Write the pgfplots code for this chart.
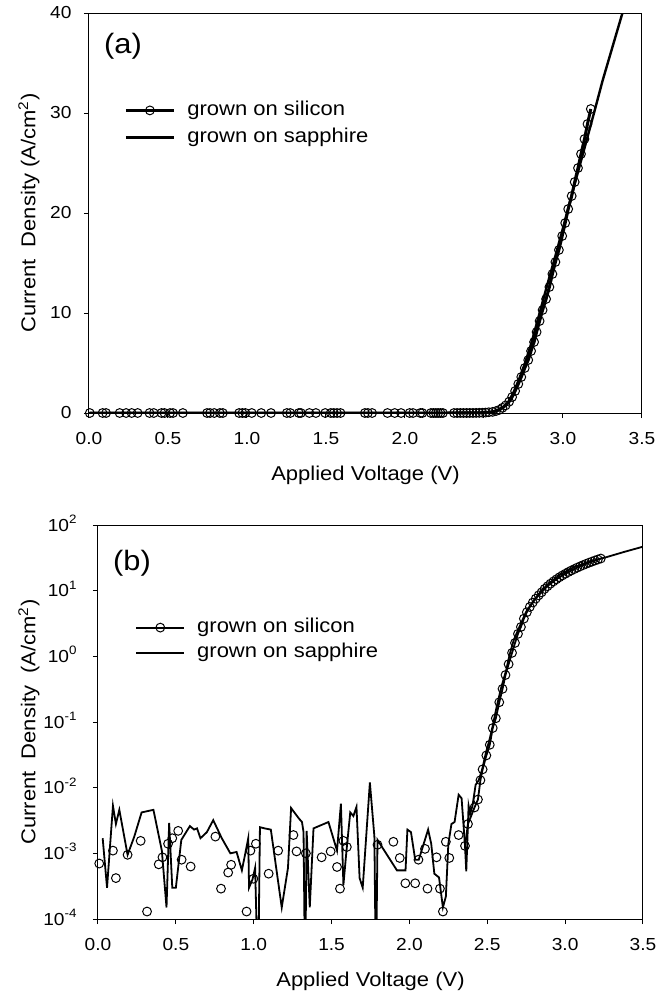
\documentclass[border=0pt]{standalone}
\usepackage{fontspec}
\setmainfont{Liberation Sans}[FakeStretch=1.1]
\usepackage{pgfplots}
\usepackage{pgfplotstable}
\pgfplotsset{compat=1.18}
\newcommand\tickfont{\fontsize{8.7}{10}\selectfont}
\newcommand\labfont{\fontsize{10}{12}\selectfont}

% (a) linear scale
\pgfplotstableread{
V J
0.005 0
0.086 0
0.108 0
0.194 0
0.235 0
0.270 0
0.308 0
0.383 0
0.410 0
0.459 0
0.478 0
0.513 0
0.532 0
0.594 0
0.747 0
0.766 0
0.793 0
0.828 0
0.847 0
0.950 0
0.971 0
0.990 0
1.030 0
1.090 0
1.152 0
1.252 0
1.274 0
1.328 0
1.341 0
1.395 0
1.436 0
1.495 0
1.530 0
1.549 0
1.570 0
1.592 0
1.746 0
1.765 0
1.792 0
1.889 0
1.935 0
1.975 0
2.029 0
2.051 0
2.097 0
2.110 0
2.164 0
2.180 0
2.195 0
2.210 0
2.225 0
2.240 0
2.310 0.002
2.330 0.003
2.350 0.003
2.370 0.003
2.390 0.004
2.410 0.005
2.430 0.007
2.450 0.012
2.470 0.019
2.490 0.030
2.510 0.043
2.530 0.075
2.555 0.114
2.577 0.20
2.598 0.32
2.617 0.52
2.637 0.76
2.659 1.13
2.678 1.6
2.697 2.2
2.717 2.9
2.736 3.6
2.758 4.5
2.780 5.3
2.798 6.2
2.817 7.1
2.833 8.1
2.852 9.2
2.871 10.3
2.893 11.4
2.914 12.6
2.933 13.9
2.952 15.1
2.974 16.3
2.995 17.7
3.014 19.0
3.033 20.4
3.055 21.7
3.074 23.1
3.095 24.5
3.114 25.9
3.136 27.4
3.155 28.9
3.176 30.4
}\siliconlin

\pgfplotstableread{
V J
0.00 0
0.50 0
1.00 0
1.50 0
2.00 0
2.30 0.002
2.40 0.006
2.45 0.015
2.50 0.04
2.55 0.12
2.60 0.38
2.63 0.70
2.65 1.0
2.685 2.0
2.72 3.3
2.76 5.0
2.80 7.0
2.852 10.0
2.90 12.8
2.95 15.6
3.00 18.5
3.05 21.5
3.10 24.4
3.15 27.3
3.203 30.4
3.25 33.2
3.30 35.9
3.38 40.2
3.50 47.0
}\sapphirelin

% (b) log scale
\pgfplotstableread{
V J
0.008 7e-4
0.096 1.1e-3
0.115 4.2e-4
0.190 9.5e-4
0.274 1.55e-3
0.315 1.3e-4
0.390 6.8e-4
0.414 8.7e-4
0.450 1.4e-3
0.477 1.7e-3
0.515 2.2e-3
0.537 8e-4
0.595 6.3e-4
0.754 1.8e-3
0.790 2.9e-4
0.836 5.1e-4
0.855 6.7e-4
0.954 1.3e-4
0.979 1.1e-3
0.998 4.1e-4
1.014 1.4e-3
1.096 4.9e-4
1.157 1.1e-3
1.255 1.9e-3
1.275 1.07e-3
1.335 1e-3
1.436 8.7e-4
1.494 1.07e-3
1.535 6.2e-4
1.554 2.9e-4
1.576 1.55e-3
1.598 1.25e-3
1.795 1.35e-3
1.897 1.5e-3
1.938 8.5e-4
1.974 3.5e-4
2.037 3.5e-4
2.058 8e-4
2.100 1.17e-3
2.116 2.9e-4
2.174 8.7e-4
2.196 2.9e-4
2.215 1.3e-4
2.234 1.5e-3
2.256 8.5e-4
2.316 1.9e-3
}\siliconlowlog

\pgfplotstableread{
V J
2.357 1.3e-3
2.376 2.8e-3
2.418 5e-3
2.440 6.6e-3
2.456 1.3e-2
2.470 1.9e-2
2.494 3.1e-2
2.516 4.5e-2
2.535 8.1e-2
2.555 0.114
2.577 0.20
2.598 0.32
2.617 0.52
2.637 0.76
2.659 1.13
2.678 1.6
2.697 2.2
2.716 2.8
2.735 3.75
2.754 4.7
2.773 5.65
2.792 6.6
2.811 7.55
2.830 8.5
2.849 9.45
2.868 10.65
2.887 11.7
2.906 12.8
2.925 13.85
2.944 14.9
2.963 16.0
2.982 17.05
3.001 18.1
3.020 19.2
3.039 20.25
3.058 21.3
3.077 22.4
3.096 23.45
3.115 24.5
3.134 25.6
3.153 26.65
3.172 27.7
3.191 28.8
3.210 29.85
3.229 30.9
}\siliconhighlog

\pgfplotstableread{
V J
0.030 1.7e-3
0.058 3e-4
0.096 5.3e-3
0.115 2.8e-3
0.137 4.6e-3
0.190 9.5e-4
0.233 1.8e-3
0.280 4.2e-3
0.356 4.6e-3
0.410 1.1e-3
0.440 1.5e-4
0.457 2.9e-3
0.477 3e-4
0.500 3e-4
0.535 1.6e-3
0.590 2.6e-3
0.617 2.3e-3
0.636 2.4e-3
0.658 1.7e-3
0.699 2.1e-3
0.740 3.2e-3
0.795 1.7e-3
0.850 1e-3
0.890 1.05e-3
0.924 5.5e-4
0.946 1e-3
0.965 1.7e-3
0.970 3e-4
0.992 4e-4
1.009 6e-4
1.028 1e-5
1.040 2.5e-3
1.070 2.4e-3
1.110 2.3e-3
1.180 1.5e-4
1.220 6e-4
1.240 4.9e-3
1.290 3.4e-3
1.310 3e-3
1.320 2.1e-3
1.330 1e-5
1.340 2.2e-3
1.360 1.5e-4
1.384 2.4e-3
1.480 3e-3
1.535 1.1e-3
1.560 5.7e-3
1.576 3.3e-4
1.595 1.05e-3
1.620 4.2e-3
1.640 3.7e-3
1.660 5.1e-3
1.680 4.2e-4
1.700 3e-4
1.746 1.2e-2
1.775 1.8e-3
1.785 1e-5
1.795 1.6e-3
1.920 5.5e-4
1.975 5.5e-4
1.987 2.3e-3
2.010 2.1e-3
2.037 8e-4
2.060 8e-4
2.120 2.3e-3
2.140 1.4e-3
2.160 4.9e-4
2.190 4.3e-4
2.215 1.5e-4
2.234 2.2e-4
2.250 1.4e-3
2.270 2.8e-3
2.290 3e-3
2.316 7.8e-3
2.335 6.9e-3
2.357 1.3e-3
2.365 5.3e-4
2.380 5.3e-3
2.390 4e-3
2.405 5.3e-3
2.425 1.1e-2
2.445 1.3e-2
2.467 1.9e-2
2.490 3.3e-2
2.516 5.6e-2
2.535 8.8e-2
2.560 0.17
2.590 0.34
2.620 0.60
2.645 1.1
2.670 1.77
2.700 2.6
2.750 4.8
2.800 7.2
2.850 10.2
2.900 13.2
2.967 17.5
3.050 22.5
3.150 27.5
3.267 32.5
3.380 39.0
3.500 46.8
}\sapphirelog

\pgfplotsset{
  myaxis/.style={
    scale only axis, anchor=south west,
    xmin=0, xmax=3.5,
    xtick={0,0.5,1,1.5,2,2.5,3,3.5},
    xticklabels={0.0,0.5,1.0,1.5,2.0,2.5,3.0,3.5},
    xtick pos=bottom, ytick pos=left,
    tick align=outside, major tick length=2.5pt,
    tick style={black, line width=0.5pt},
    axis line style={black, line width=0.5pt},
    xticklabel style={font=\tickfont, yshift=-3.5pt},
    label style={font=\labfont},
    xlabel={Applied Voltage (V)},
    xlabel style={at={(axis description cs:0.5,0)}, anchor=base, yshift=-33.5pt},
    clip mode=individual,
    legend cell align=left,
    legend image code/.code={%
      \draw[mark repeat=2,mark phase=2,##1] plot coordinates {(0pt,0pt) (12pt,0pt) (24pt,0pt)};
      \path (30pt,0pt);},
  },
  simark/.style={mark=o, mark size=2.2pt, mark options={solid, fill=white, draw=black, line width=0.5pt}},
}

\begin{document}
\begin{tikzpicture}
\useasboundingbox (0,0) rectangle (334.5pt,-496pt);

% ---------- (a) ----------
\begin{axis}[myaxis,
  at={(44.5pt,-206.5pt)}, width=276.5pt, height=200pt,
  ymin=0, ymax=40,
  ytick={0,10,20,30,40}, yticklabels={0,10,20,30,40},
  yticklabel style={font=\tickfont, xshift=-2.7pt},
  ylabel={Current\ \ Density (A/cm\textsuperscript{2})},
  ylabel style={at={(axis description cs:-0.097,0.5)}, anchor=base, rotate=0},
  legend style={draw=none, fill=none, at={(axis description cs:0.0633,0.7825)}, anchor=north west,
    inner sep=0pt, row sep=3.5pt, font=\labfont,
    nodes={inner sep=0pt, text height=7.5pt, text depth=2.5pt}},
]
\addplot[black, line width=1.5pt, simark] table[x=V,y=J] {\siliconlin};
\addlegendentry{grown on silicon}
\addplot[black, line width=1.2pt, no marks] table[x=V,y=J] {\sapphirelin};
\addlegendentry{grown on sapphire}
\node[font=\fontsize{14}{16}\selectfont] at (axis description cs:0.0615,0.9175) {(a)};
\end{axis}

% ---------- (b) ----------
\begin{axis}[myaxis,
  at={(49pt,-459.5pt)}, width=272.5pt, height=197pt,
  ymode=log, ymin=1e-4, ymax=1e2,
  ytick={1e-4,1e-3,1e-2,1e-1,1,10,100},
  yticklabels={10\textsuperscript{-4},10\textsuperscript{-3},10\textsuperscript{-2},10\textsuperscript{-1},10\textsuperscript{0},10\textsuperscript{1},10\textsuperscript{2}},
  yminorticks=false,
  yticklabel style={font=\tickfont, anchor=base east, xshift=-4.2pt, yshift=-3pt},
  ylabel={Current\ \ Density\ \ (A/cm\textsuperscript{2})},
  ylabel style={at={(axis description cs:-0.115,0.5)}, anchor=base, rotate=0},
  legend style={draw=none, fill=none, at={(axis description cs:0.0679,0.766)}, anchor=north west,
    inner sep=0pt, row sep=2.5pt, font=\labfont,
    nodes={inner sep=0pt, text height=7.5pt, text depth=2.5pt}},
]
\addplot[black, line width=0.9pt, simark] table[x=V,y=J] {\siliconhighlog};
\addlegendentry{grown on silicon}
\addplot[black, line width=0.9pt, no marks] table[x=V,y=J] {\sapphirelog};
\addlegendentry{grown on sapphire}
\addplot[only marks, simark, forget plot] table[x=V,y=J] {\siliconlowlog};
\node[font=\fontsize{14}{16}\selectfont] at (axis description cs:0.0624,0.9036) {(b)};
\end{axis}
\end{tikzpicture}
\end{document}
